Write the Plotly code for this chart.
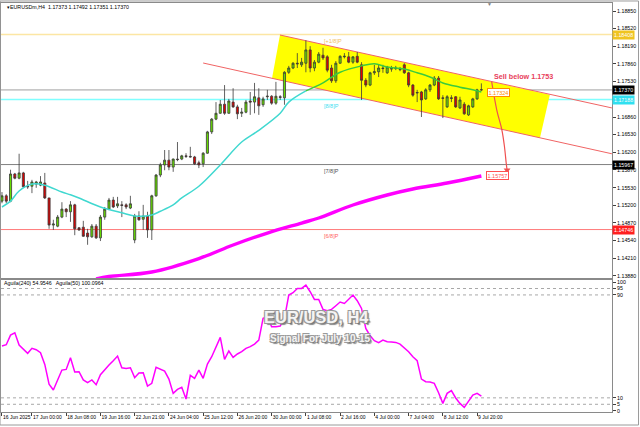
import plotly.graph_objects as go

# ---------------- data ----------------
bar_index = list(range(113))
open_ = [1.1528,1.1538,1.1528,1.1579,1.1571,1.1581,1.1556,1.1556,1.1560,1.1558,
         1.1562,1.1534,1.1483,1.1481,1.1498,1.1513,1.1508,1.1521,1.1478,1.1479,
         1.1468,1.1461,1.1481,1.1459,1.1498,1.1513,1.1530,1.1519,1.1521,1.1521,
         1.1515,1.1455,1.1500,1.1494,1.1500,1.1474,1.1538,1.1577,1.1596,1.1605,
         1.1592,1.1607,1.1607,1.1613,1.1612,1.1611,1.1600,1.1598,1.1618,1.1658,
         1.1682,1.1693,1.1710,1.1693,1.1714,1.1705,1.1693,1.1695,1.1716,1.1714,
         1.1722,1.1709,1.1724,1.1725,1.1712,1.1724,1.1722,1.1770,1.1778,1.1787,
         1.1784,1.1787,1.1812,1.1778,1.1789,1.1802,1.1799,1.1778,1.1754,1.1787,
         1.1799,1.1799,1.1789,1.1800,1.1784,1.1755,1.1746,1.1769,1.1771,1.1778,
         1.1769,1.1776,1.1778,1.1776,1.1784,1.1769,1.1746,1.1731,1.1733,1.1720,
         1.1737,1.1746,1.1759,1.1722,1.1705,1.1722,1.1724,1.1703,1.1710,1.1690,
         1.1705,1.1720,1.17373]
high_ = [1.1545,1.1541,1.1587,1.1581,1.1617,1.1583,1.1566,1.1568,1.1566,1.1575,
         1.1581,1.1534,1.1493,1.1502,1.1526,1.1515,1.1528,1.1523,1.1479,1.1491,
         1.1476,1.1485,1.1485,1.1502,1.1517,1.1534,1.1536,1.1536,1.1528,1.1524,
         1.1538,1.1504,1.1509,1.1521,1.1508,1.1540,1.1579,1.1600,1.1624,1.1624,
         1.1608,1.1639,1.1615,1.1618,1.1630,1.1613,1.1604,1.1620,1.1660,1.1684,
         1.1714,1.1718,1.1746,1.1720,1.1740,1.1709,1.1703,1.1718,1.1733,1.1750,
         1.1740,1.1724,1.1737,1.1727,1.1752,1.1727,1.1772,1.1782,1.1789,1.1806,
         1.1797,1.1830,1.1819,1.1793,1.1808,1.1816,1.1802,1.1784,1.1791,1.1802,
         1.1806,1.1808,1.1800,1.1808,1.1789,1.1759,1.1771,1.1784,1.1784,1.1784,
         1.1782,1.1782,1.1782,1.1780,1.1787,1.1771,1.1748,1.1737,1.1735,1.1740,
         1.1748,1.1763,1.1763,1.1727,1.1727,1.1727,1.1725,1.1724,1.1714,1.1709,
         1.1722,1.1739,1.17492]
low_ = [1.1524,1.1524,1.1526,1.1569,1.1569,1.1553,1.1551,1.1543,1.1553,1.1556,
        1.1532,1.1476,1.1474,1.1479,1.1496,1.1498,1.1489,1.1464,1.1472,1.1461,
        1.1446,1.1459,1.1457,1.1453,1.1493,1.1511,1.1515,1.1515,1.1498,1.1513,
        1.1513,1.1449,1.1491,1.1474,1.1459,1.1455,1.1536,1.1573,1.1586,1.1586,
        1.1583,1.1603,1.1605,1.1609,1.1610,1.1596,1.1590,1.1592,1.1617,1.1654,
        1.1680,1.1692,1.1690,1.1692,1.1703,1.1682,1.1686,1.1693,1.1690,1.1693,
        1.1690,1.1705,1.1718,1.1709,1.1709,1.1718,1.1709,1.1767,1.1776,1.1778,
        1.1780,1.1770,1.1770,1.1772,1.1787,1.1793,1.1770,1.1750,1.1750,1.1786,
        1.1796,1.1787,1.1786,1.1787,1.1718,1.1742,1.1744,1.1765,1.1761,1.1769,
        1.1767,1.1771,1.1774,1.1772,1.1767,1.1742,1.1724,1.1714,1.1686,1.1718,
        1.1733,1.1744,1.1718,1.1684,1.1703,1.1714,1.1703,1.1701,1.1690,1.1688,
        1.1703,1.1718,1.17351]
close_ = [1.1538,1.1528,1.1579,1.1571,1.1581,1.1555,1.1555,1.1564,1.1564,1.1564,
          1.1534,1.1483,1.1485,1.1498,1.1513,1.1508,1.1521,1.1476,1.1474,1.1462,
          1.1461,1.1481,1.1459,1.1498,1.1513,1.1530,1.1517,1.1523,1.1520,1.1517,
          1.1523,1.1500,1.1493,1.1500,1.1474,1.1538,1.1577,1.1596,1.1605,1.1592,
          1.1607,1.1606,1.1613,1.1612,1.1611,1.1598,1.1596,1.1618,1.1658,1.1682,
          1.1693,1.1710,1.1693,1.1716,1.1705,1.1692,1.1695,1.1714,1.1714,1.1724,
          1.1707,1.1720,1.1725,1.1712,1.1725,1.1723,1.1770,1.1778,1.1787,1.1786,
          1.1789,1.1812,1.1778,1.1789,1.1804,1.1797,1.1774,1.1754,1.1787,1.1800,
          1.1800,1.1789,1.1799,1.1789,1.1755,1.1746,1.1769,1.1771,1.1778,1.1777,
          1.1780,1.1777,1.1777,1.1775,1.1769,1.1746,1.1727,1.1732,1.1718,1.1737,
          1.1746,1.1759,1.1720,1.1721,1.1724,1.1721,1.1705,1.1718,1.1692,1.1707,
          1.1720,1.1737,1.17370]

ma_fast_idx = [0,2,4,7,10,14,16,18,23,28,31,35,37,40,42,46,51,56,60,65,67,71]
ma_fast_val = [1.1517,1.1528,1.1547,1.1560,1.1558,1.1545,1.1540,1.1534,1.1517,1.1506,
               1.1500,1.1502,1.1509,1.1521,1.1534,1.1556,1.1596,1.1639,1.1661,1.1693,
               1.1714,1.1735]
ma_fast2_idx = [71,75,79,84,87,90,94,97,100,103,107,110,112]
ma_fast2_val = [1.1735,1.1750,1.1770,1.1782,1.1786,1.1780,1.1776,1.1769,1.1761,1.1750,
                1.1742,1.1737,1.1733]
ma_slow_idx = [22,25,35,46,54,62,70,74,82,90,96,104,112]
ma_slow_val = [1.13817,1.13864,1.13949,1.14202,1.14456,1.14681,1.14869,1.14963,
               1.15207,1.15395,1.15508,1.15620,1.15752]

osc_val = [50.3,51.3,58.8,60.6,51.0,47.7,44.6,48.5,47.4,45.1,
           36.0,20.7,16.1,23.9,31.6,32.1,41.2,30.1,30.3,23.9,
           21.8,23.9,20.2,28.0,32.1,35.5,38.9,42.5,33.4,32.9,
           33.4,25.7,29.3,29.5,19.2,21.3,33.7,32.1,30.8,24.6,
           13.5,16.6,18.2,9.1,27.5,25.2,31.6,25.2,36.3,42.0,
           49.2,57.0,39.9,46.4,41.5,44.1,45.9,48.5,49.8,51.8,
           54.9,71.8,73.1,65.3,65.3,65.8,71.8,89.9,91.7,95.1,
           95.1,97.7,92.5,86.5,86.5,78.8,77.7,78.8,81.6,84.5,
           83.4,86.5,89.9,85.5,79.5,64.0,58.3,54.4,52.9,54.9,
           53.6,53.4,53.1,51.8,49.0,45.9,42.0,38.9,24.6,22.6,
           22.3,21.3,14.0,5.7,13.5,15.6,9.9,5.7,2.6,7.0,
           12.2,13.5,11.4]

tick_idx = [0,7,15,23,31,39,47,55,63,71,79,87,95,103,111]
tick_text = ["16 Jun 2025","17 Jun 00:00","18 Jun 08:00","19 Jun 16:00","22 Jun 21:00",
             "24 Jun 04:00","25 Jun 12:00","26 Jun 20:00","30 Jun 00:00","1 Jul 08:00",
             "2 Jul 16:00","4 Jul 00:00","7 Jul 04:00","8 Jul 12:00","9 Jul 20:00"]
price_ticks = [1.18850,1.18520,1.18190,1.17860,1.17530,1.16860,1.16530,1.16200,
               1.15870,1.15530,1.15200,1.14870,1.14540,1.14210,1.13880]
osc_ticks = [0,5,10,90,95,100]

level_names = ["[+1/8]P","[8/8]P","[7/8]P","[6/8]P"]
level_vals = [1.18408,1.17188,1.15967,1.14746]
current_price = 1.17370

channel_x = [64.95,128.0,125.7,63.1]
channel_y = [1.1840,1.1728,1.1647,1.1759]
upper_line_x = [64.95,142.5]
upper_line_y = [1.1840,1.1703]
lower_line_x = [47.0,142.5]
lower_line_y = [1.17874,1.16169]
arrow_x = [114.4,115.6,116.8,117.4,117.8,118.0]
arrow_y = [1.17523,1.16991,1.16615,1.16302,1.15996,1.15864]

FONT = "Liberation Sans"
xr = [-0.23, 142.52]

fig = go.Figure()

fig.add_trace(go.Candlestick(
    x=bar_index, open=open_, high=high_, low=low_, close=close_,
    increasing=dict(line=dict(color="#3a3a3a", width=0.8), fillcolor="#66DD00"),
    decreasing=dict(line=dict(color="#3a3a3a", width=0.8), fillcolor="#E00000"),
    whiskerwidth=0, xaxis="x", yaxis="y", hoverinfo="skip"))

fig.add_trace(go.Scatter(x=ma_fast_idx, y=ma_fast_val, mode="lines",
                         line=dict(color="#40D8D0", width=1.5, shape="spline"), xaxis="x", yaxis="y"))
fig.add_trace(go.Scatter(x=ma_fast2_idx, y=ma_fast2_val, mode="lines",
                         line=dict(color="#3CCB3C", width=1.5, shape="spline"), xaxis="x", yaxis="y"))
fig.add_trace(go.Scatter(x=ma_slow_idx, y=ma_slow_val, mode="lines",
                         line=dict(color="#FF00FF", width=3.4, shape="spline"), xaxis="x", yaxis="y"))

# curved sell arrow
fig.add_trace(go.Scatter(x=arrow_x, y=arrow_y, mode="lines",
                         line=dict(color="#F05050", width=1.2, shape="spline"),
                         xaxis="x", yaxis="y"))
fig.add_trace(go.Scatter(x=[arrow_x[-1]], y=[arrow_y[-1]], mode="markers",
                         marker=dict(symbol="triangle-down", size=6, color="#F05050"),
                         xaxis="x", yaxis="y"))

# oscillator
fig.add_trace(go.Scatter(x=bar_index, y=osc_val, mode="lines",
                         line=dict(color="#FF00FF", width=1.5), xaxis="x2", yaxis="y2"))

shapes = []
path = "M " + " L ".join(f"{x},{y}" for x, y in zip(channel_x, channel_y)) + " Z"
shapes.append(dict(type="path", path=path, xref="x", yref="y", fillcolor="#FFFF00",
                   line=dict(width=0), layer="below"))
level_colors = ["#FCE6A4", "#7FFFFF", "#808080", "#FF7A7A"]
level_widths = [1.5, 1.5, 1, 1]
for v, c, w in zip(level_vals, level_colors, level_widths):
    shapes.append(dict(type="line", xref="paper", x0=0, x1=1, yref="y", y0=v, y1=v,
                       line=dict(color=c, width=w), layer="below"))
shapes.append(dict(type="line", xref="paper", x0=0, x1=1, yref="y", y0=current_price,
                   y1=current_price, line=dict(color="#C8C8C8", width=1.8), layer="below"))
shapes.append(dict(type="line", xref="x", yref="y", x0=upper_line_x[0], x1=upper_line_x[1],
                   y0=upper_line_y[0], y1=upper_line_y[1], line=dict(color="#F06464", width=1),
                   layer="below"))
shapes.append(dict(type="line", xref="x", yref="y", x0=lower_line_x[0], x1=lower_line_x[1],
                   y0=lower_line_y[0], y1=lower_line_y[1], line=dict(color="#F06464", width=1),
                   layer="below"))
for v in [5, 10, 90, 95]:
    shapes.append(dict(type="line", xref="paper", x0=0, x1=1, yref="y2", y0=v, y1=v,
                       line=dict(color="#A8A8A8", width=1, dash="dot"), layer="below"))
shapes.append(dict(type="rect", xref="paper", yref="paper", x0=-0.0016, x1=1.0434,
                   y0=-0.0318, y1=1.0049, line=dict(color="#9a9a9a", width=1)))

annotations = []
small = dict(family=FONT, size=5.3, color="black")
annotations.append(dict(xref="paper", yref="paper", x=0.0065, y=0.990, xanchor="left",
                        yanchor="middle", showarrow=False, font=dict(family=FONT, size=5.3, color="black"),
                        text="▾EURUSDm,H4  1.17373 1.17492 1.17351 1.17370"))
annotations.append(dict(xref="paper", yref="paper", x=0.001, y=0.3154, xanchor="left",
                        yanchor="middle", showarrow=False, font=dict(family=FONT, size=5.3, color="black"),
                        text="Aguila(240) 54.9546   Aguila(50) 100.0964"))
annotations.append(dict(xref="paper", yref="paper", x=0.8003, y=0.9985, xanchor="center",
                        yanchor="middle", showarrow=False, font=dict(family=FONT, size=5, color="#808080"),
                        text="▼"))
label_colors = ["#F0C060", "#40E0F0", "#505050", "#FF6060"]
for name, v, c in zip(level_names, level_vals, label_colors):
    annotations.append(dict(xref="x", yref="y", x=74.8, y=v, xanchor="left", yanchor="top",
                            showarrow=False, yshift=-1,
                            font=dict(family=FONT, size=5.5, color=c), text=name))
box_specs = [(level_vals[0], "#F0C420"), (current_price, "#000000"), (level_vals[1], "#30E0F0"),
             (level_vals[2], "#000000"), (level_vals[3], "#FF2020")]
for v, bg in box_specs:
    annotations.append(dict(xref="paper", yref="y", x=1.0, y=v, xanchor="left", yanchor="middle",
                            showarrow=False, bgcolor=bg, borderpad=1,
                            font=dict(family=FONT, size=5.3, color="white"), text=f"{v:.5f}"))
annotations.append(dict(xref="x", yref="y", x=113.3, y=1.17324, xanchor="left", yanchor="middle",
                        showarrow=False, bgcolor="white", bordercolor="#FF8C00", borderwidth=1,
                        borderpad=0.5, font=dict(family=FONT, size=5.5, color="#FF8C00"), text="1.17324"))
annotations.append(dict(xref="x", yref="y", x=113.1, y=1.15757, xanchor="left", yanchor="middle",
                        showarrow=False, bgcolor="white", bordercolor="#FF5050", borderwidth=1,
                        borderpad=0.5, font=dict(family=FONT, size=5.5, color="#FF5050"), text="1.15757"))
annotations.append(dict(xref="x", yref="y", x=114.4, y=1.1763, xanchor="left", yanchor="middle",
                        showarrow=False, font=dict(family=FONT, size=7.2, color="#E8405A", weight="bold"),
                        text="Sell below 1.1753"))
shadow = "-1px -1px 0 #9a9a9a, 1px -1px 0 #9a9a9a, -1px 1px 0 #9a9a9a, 1px 1px 0 #777, 2px 2px 1px #888"
annotations.append(dict(xref="x2", yref="y2", x=73.4, y=72.8, xanchor="center", yanchor="middle",
                        showarrow=False, text="EUR/USD, H4",
                        font=dict(family=FONT, size=16.5, color="#F4F4F4", weight="bold", shadow=shadow)))
annotations.append(dict(xref="x2", yref="y2", x=74.3, y=56.5, xanchor="center", yanchor="middle",
                        showarrow=False, text="Signal For July 10-15",
                        font=dict(family=FONT, size=10, color="#F4F4F4", weight="bold", shadow=shadow)))

axis_line = dict(showline=True, linecolor="#8a8a8a", linewidth=1, mirror=True,
                 showgrid=False, zeroline=False)

fig.update_layout(
    width=640, height=427, margin=dict(l=1, r=28, t=3, b=15),
    paper_bgcolor="white", plot_bgcolor="white", showlegend=False,
    shapes=shapes, annotations=annotations,
    xaxis=dict(domain=[0, 1], anchor="y", range=xr, showticklabels=False, ticks="",
               rangeslider=dict(visible=False), **axis_line),
    yaxis=dict(domain=[0.3276, 1], anchor="x", side="right", range=[1.13836, 1.19001],
               tickvals=price_ticks, ticktext=[f"{v:.5f}" for v in price_ticks],
               ticks="outside", ticklen=3, tickcolor="#404040", tickfont=small, **axis_line),
    xaxis2=dict(domain=[0, 1], anchor="y2", range=xr, matches="x", tickvals=tick_idx,
                ticktext=tick_text, ticks="outside", ticklen=3, tickcolor="#404040", tickangle=0,
                ticklabelposition="outside right", tickfont=dict(family=FONT, size=5, color="black"),
                **axis_line),
    yaxis2=dict(domain=[0, 0.3227], anchor="x2", side="right", range=[-1.0, 101.6],
                tickvals=osc_ticks, ticktext=[str(v) for v in osc_ticks], ticks="outside",
                ticklen=3, tickcolor="#404040", tickfont=small, **axis_line),
)

fig.write_html("out.html", config={"displayModeBar": False},
               post_script="document.body.style.margin='0';document.body.style.overflow='hidden';")
